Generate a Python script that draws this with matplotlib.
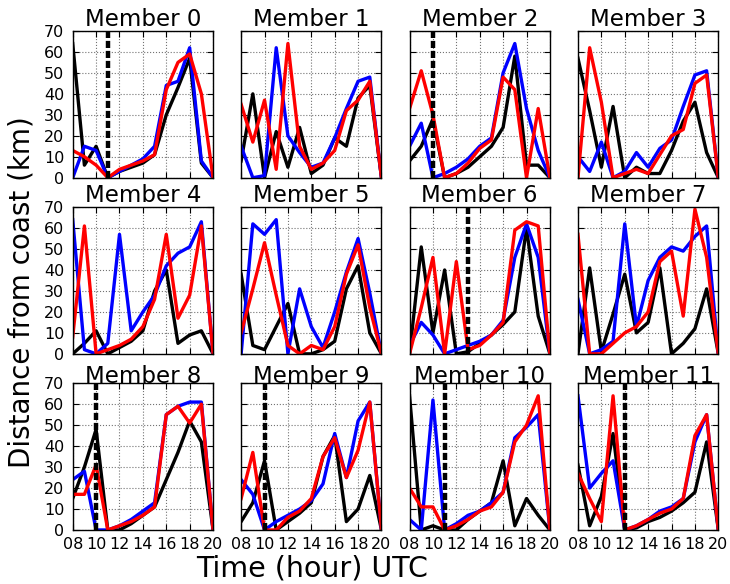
import matplotlib
matplotlib.use("Agg")
import matplotlib.pyplot as plt

hours = [8, 9, 10, 11, 12, 13, 14, 15, 16, 17, 18, 19, 20]
xtick_pos = [8, 10, 12, 14, 16, 18, 20]
xtick_labels = ["08", "10", "12", "14", "16", "18", "20"]
ytick_pos = [0, 10, 20, 30, 40, 50, 60, 70]
titles = ["Member %d" % i for i in range(12)]

black_vals = [
    [64, 6, 15, 0, 3, 5, 7, 11, 30, 43, 57, 7, 0],
    [8, 40, 0, 22, 5, 24, 2, 6, 19, 15, 38, 44, 0],
    [8, 15, 28, 0, 2, 5, 10, 15, 24, 58, 6, 6, 0],
    [57, 32, 5, 34, 0, 5, 2, 2, 13, 27, 36, 12, 0],
    [0, 5, 11, 0, 3, 6, 11, 30, 40, 5, 9, 11, 0],
    [38, 4, 2, 13, 24, 0, 0, 2, 6, 31, 42, 10, 0],
    [0, 51, 10, 40, 0, 1, 5, 9, 14, 20, 60, 18, 0],
    [0, 41, 1, 19, 38, 10, 15, 41, 0, 5, 12, 31, 0],
    [15, 30, 48, 0, 0, 3, 7, 11, 24, 37, 52, 42, 0],
    [4, 13, 33, 0, 4, 8, 13, 35, 45, 4, 10, 26, 0],
    [64, 0, 2, 0, 0, 5, 9, 13, 33, 2, 15, 7, 0],
    [31, 2, 16, 46, 0, 1, 4, 6, 9, 13, 18, 42, 0],
]

blue_vals = [
    [0, 15, 13, 0, 3, 6, 9, 15, 44, 46, 62, 8, 0],
    [15, 0, 1, 62, 20, 12, 5, 7, 19, 33, 46, 48, 0],
    [15, 26, 0, 2, 5, 9, 15, 19, 50, 64, 33, 13, 0],
    [10, 3, 17, 0, 3, 12, 5, 14, 18, 34, 49, 51, 0],
    [64, 2, 0, 5, 57, 11, 20, 28, 42, 48, 51, 63, 0],
    [0, 62, 57, 64, 0, 31, 13, 3, 20, 39, 55, 29, 0],
    [4, 15, 9, 0, 2, 4, 6, 9, 16, 46, 62, 46, 0],
    [26, 0, 2, 6, 62, 13, 35, 46, 51, 49, 56, 61, 0],
    [24, 28, 0, 0, 2, 5, 9, 13, 55, 59, 61, 61, 0],
    [24, 17, 0, 4, 7, 10, 14, 22, 46, 25, 52, 61, 0],
    [5, 0, 62, 0, 3, 7, 9, 13, 18, 44, 49, 55, 0],
    [64, 20, 27, 33, 0, 2, 5, 9, 11, 15, 42, 55, 0],
]

red_vals = [
    [13, 10, 6, 0, 4, 6, 8, 11, 42, 55, 59, 40, 0],
    [35, 17, 37, 4, 64, 15, 4, 7, 13, 32, 37, 46, 0],
    [33, 51, 30, 0, 2, 7, 14, 18, 48, 42, 0, 33, 0],
    [0, 62, 36, 0, 2, 4, 2, 11, 20, 23, 45, 49, 0],
    [8, 61, 0, 2, 4, 7, 13, 26, 57, 17, 28, 61, 0],
    [10, 31, 53, 28, 4, 0, 4, 2, 13, 38, 52, 22, 0],
    [0, 22, 46, 0, 44, 2, 4, 9, 15, 59, 63, 61, 0],
    [57, 0, 0, 5, 10, 13, 20, 44, 49, 18, 69, 46, 0],
    [17, 17, 31, 0, 2, 4, 7, 11, 55, 59, 51, 60, 0],
    [15, 37, 0, 0, 6, 9, 15, 35, 44, 25, 38, 61, 0],
    [20, 11, 11, 0, 2, 5, 9, 11, 18, 42, 50, 64, 0],
    [27, 15, 4, 64, 0, 2, 5, 8, 10, 15, 45, 55, 0],
]

dash_hours = [11, None, 10, None, None, None, 13, None, 10, 10, 11, 12]

fig, axes = plt.subplots(3, 4, figsize=(7.3, 5.84), dpi=100, sharex=True, sharey=True)
fig.subplots_adjust(left=0.0996, right=0.984, top=0.947, bottom=0.0925,
                    wspace=0.2, hspace=0.2)

for i, ax in enumerate(axes.flat):
    ax.grid(True, color="0.45", linestyle=":", linewidth=0.8)
    ax.set_axisbelow(True)
    ax.plot(hours, black_vals[i], color="black", lw=2.4)
    ax.plot(hours, blue_vals[i], color="blue", lw=2.4)
    ax.plot(hours, red_vals[i], color="red", lw=2.4)
    if dash_hours[i] is not None:
        ax.axvline(dash_hours[i], color="black", lw=3.2,
                   linestyle=(0, (1.6, 0.65)))
    ax.set_xlim(8, 20)
    ax.set_ylim(0, 70)
    ax.set_xticks(xtick_pos)
    ax.set_xticklabels(xtick_labels)
    ax.set_yticks(ytick_pos)
    ax.tick_params(direction="in", top=True, right=True, length=4,
                   width=0.8, labelsize=11.5)
    ax.tick_params(axis="x", pad=5)
    ax.tick_params(axis="y", pad=6)
    for sp in ax.spines.values():
        sp.set_linewidth(1.0)
    ax.set_title(titles[i], fontsize=16.5, pad=0.5)

fig.text(0.03, 0.5, "Distance from coast (km)", rotation=90, fontsize=20,
         ha="center", va="center")
fig.text(0.427, 0.027, "Time (hour) UTC", fontsize=20.5, ha="center", va="center")

fig.savefig("out.png", dpi=100, facecolor="white")
